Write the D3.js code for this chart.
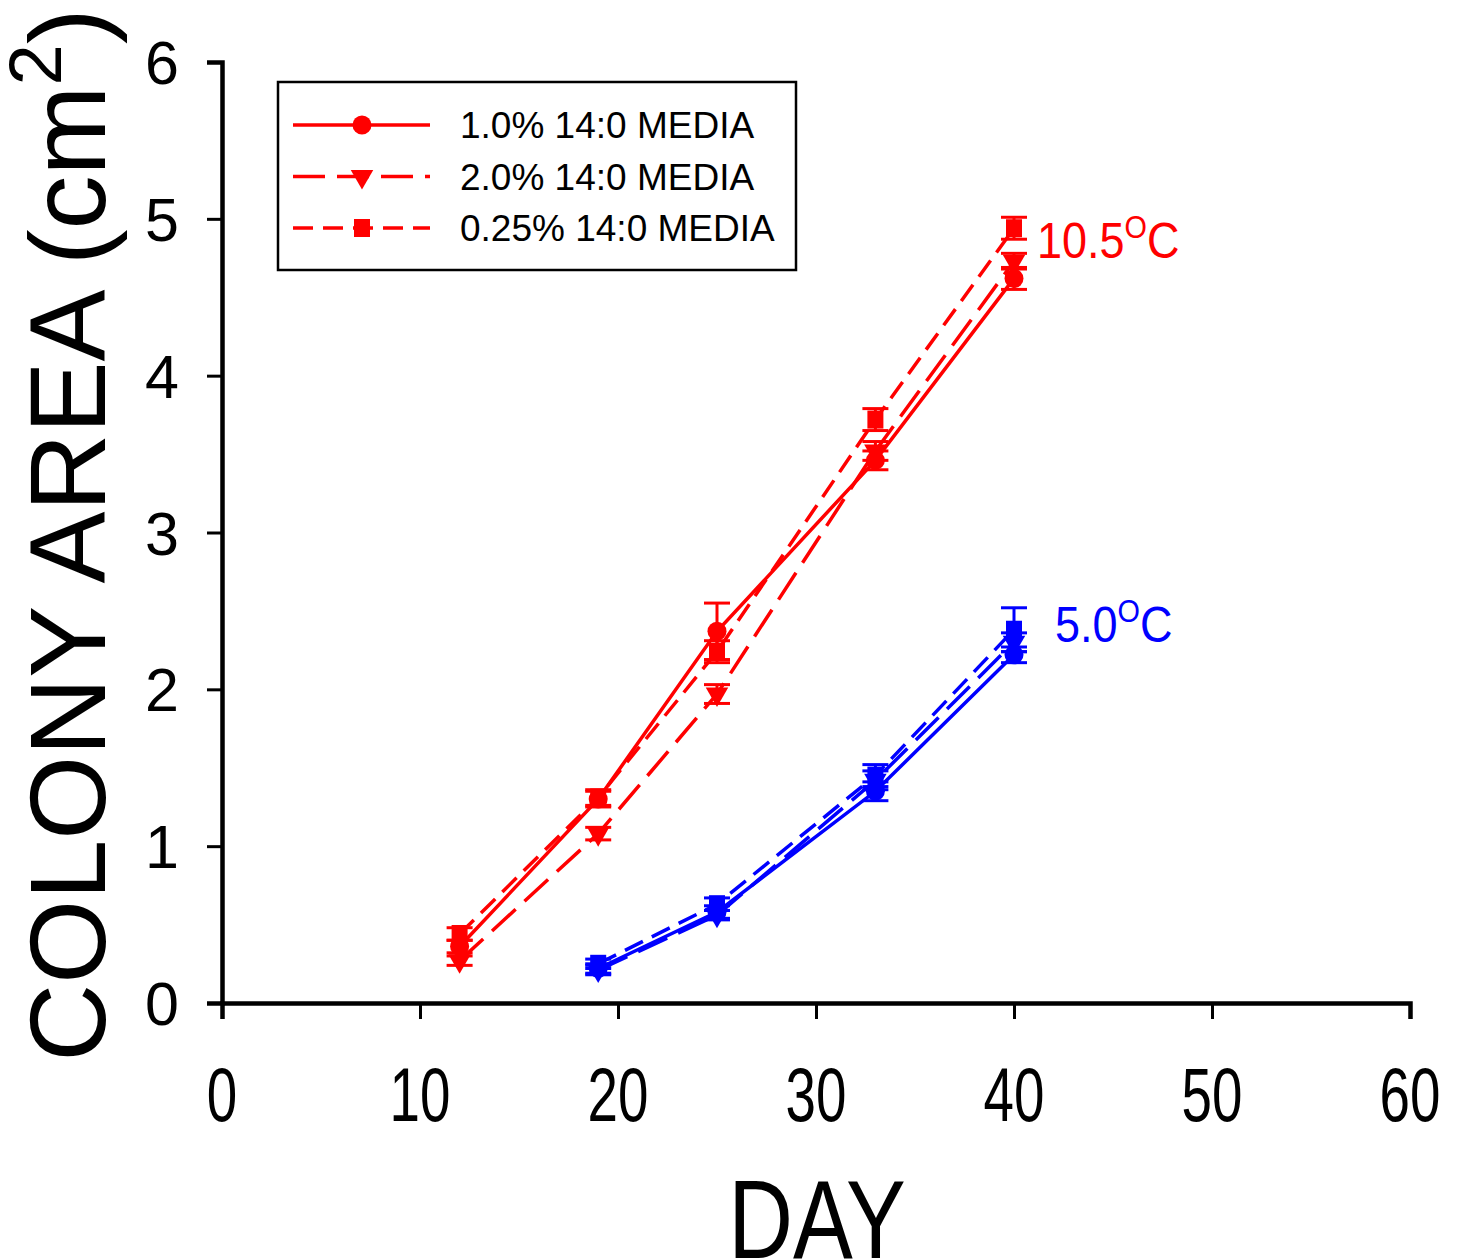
<!DOCTYPE html>
<html>
<head>
<meta charset="utf-8">
<script src="https://cdn.jsdelivr.net/npm/d3@7"></script>
<style>
  body { margin: 0; background: #fff; }
  text { font-family: "Liberation Sans", Arial, sans-serif; }
</style>
</head>
<body>
<svg id="chart" width="1463" height="1260"></svg>
<script>
// days sampled at each temperature
const days105 = [12, 19, 25, 33, 40];
const days50 = [19, 25, 33, 40];

// colony area (cm2) and standard error, 10.5 C
const hot10 = [0.36, 1.30, 2.37, 3.46, 4.62];
const hot10Err = [0.04, 0.05, 0.18, 0.06, 0.07];
const hot20 = [0.27, 1.08, 1.97, 3.52, 4.73];
const hot20Err = [0.03, 0.04, 0.06, 0.06, 0.05];
const hot025 = [0.44, 1.31, 2.24, 3.72, 4.94];
const hot025Err = [0.04, 0.05, 0.07, 0.07, 0.07];

// colony area (cm2) and standard error, 5.0 C
const cold10 = [0.22, 0.58, 1.35, 2.22];
const cold10Err = [0.03, 0.04, 0.06, 0.05];
const cold20 = [0.21, 0.56, 1.42, 2.30];
const cold20Err = [0.03, 0.03, 0.06, 0.06];
const cold025 = [0.25, 0.63, 1.45, 2.38];
const cold025Err = [0.03, 0.04, 0.07, 0.14];

const xTicks = [0, 10, 20, 30, 40, 50, 60];
const yTicks = [0, 1, 2, 3, 4, 5, 6];
const legendLabels = ['1.0% 14:0 MEDIA', '2.0% 14:0 MEDIA', '0.25% 14:0 MEDIA'];

const styles = [
    {marker: 'circle', dash: null},
    {marker: 'triangle', dash: '32,12'},
    {marker: 'square', dash: '20,10'}
];

const svg = d3.select('#chart');

const x = d3.scaleLinear().domain([0, 60]).range([222, 1410]);
const y = d3.scaleLinear().domain([0, 6]).range([1003, 62]);

// axes
const xAxis = svg.append('g')
    .attr('transform', 'translate(0,1003)')
    .call(d3.axisBottom(x).tickValues(xTicks).tickSize(16).tickFormat(''));
const yAxis = svg.append('g')
    .attr('transform', 'translate(222,0)')
    .call(d3.axisLeft(y).tickValues(yTicks).tickSize(15).tickFormat(''));
[xAxis, yAxis].forEach(function (a) {
    a.select('.domain').attr('stroke', '#000').attr('stroke-width', 4.5);
    a.selectAll('.tick line').attr('stroke', '#000').attr('stroke-width', 3);
});

// x tick labels (condensed)
svg.selectAll('.xlab')
    .data(xTicks)
    .enter()
    .append('text')
    .attr('transform', d => 'translate(' + x(d) + ',1121) scale(0.72,1)')
    .attr('text-anchor', 'middle')
    .style('font-size', '76px')
    .text(d => d);

// y tick labels
svg.selectAll('.ylab')
    .data(yTicks)
    .enter()
    .append('text')
    .attr('x', 179)
    .attr('y', d => y(d) + 22)
    .attr('text-anchor', 'end')
    .style('font-size', '61px')
    .text(d => d);

// axis titles
svg.append('text')
    .attr('transform', 'translate(817,1258) scale(0.8,1)')
    .attr('text-anchor', 'middle')
    .style('font-size', '112px')
    .text('DAY');

const yt = svg.append('text')
    .attr('transform', 'translate(105,535) rotate(-90)')
    .attr('text-anchor', 'middle')
    .style('font-size', '108px');
yt.append('tspan').text('COLONY AREA (cm');
yt.append('tspan').attr('dy', -44).style('font-size', '74px').text('2');
yt.append('tspan').attr('dy', 44).text(')');

function drawMarker(g, kind, cx, cy, color) {
    if (kind === 'circle') {
        g.append('circle').attr('cx', cx).attr('cy', cy).attr('r', 9.5).attr('fill', color);
    } else if (kind === 'triangle') {
        g.append('path')
            .attr('d', d3.symbol().type(d3.symbolTriangle).size(220))
            .attr('transform', 'translate(' + cx + ',' + cy + ') rotate(180)')
            .attr('fill', color);
    } else {
        g.append('rect').attr('x', cx - 8).attr('y', cy - 9)
            .attr('width', 16).attr('height', 18).attr('fill', color);
    }
}

function drawSeries(days, vals, errs, style, color) {
    const pts = days.map((d, i) => ({day: d, v: vals[i], e: errs[i]}));
    const g = svg.append('g');
    g.append('path')
        .datum(pts)
        .attr('fill', 'none')
        .attr('stroke', color)
        .attr('stroke-width', 3.5)
        .attr('stroke-dasharray', style.dash)
        .attr('d', d3.line().x(p => x(p.day)).y(p => y(p.v)));
    pts.forEach(function (p) {
        const cx = x(p.day);
        const top = y(p.v + p.e), bot = y(p.v - p.e);
        g.append('line').attr('x1', cx).attr('x2', cx).attr('y1', top).attr('y2', bot)
            .attr('stroke', color).attr('stroke-width', 3);
        [top, bot].forEach(function (yy) {
            g.append('line').attr('x1', cx - 13).attr('x2', cx + 13).attr('y1', yy).attr('y2', yy)
                .attr('stroke', color).attr('stroke-width', 3);
        });
        drawMarker(g, style.marker, cx, y(p.v), color);
    });
}

const red = '#ff0000', blue = '#0000ff';
drawSeries(days105, hot10, hot10Err, styles[0], red);
drawSeries(days105, hot20, hot20Err, styles[1], red);
drawSeries(days105, hot025, hot025Err, styles[2], red);
drawSeries(days50, cold10, cold10Err, styles[0], blue);
drawSeries(days50, cold20, cold20Err, styles[1], blue);
drawSeries(days50, cold025, cold025Err, styles[2], blue);

// temperature labels
function tempLabel(px, py, main, color) {
    const t = svg.append('text')
        .attr('transform', 'translate(' + px + ',' + py + ') scale(0.9,1)')
        .attr('fill', color)
        .style('font-size', '50px');
    t.append('tspan').text(main);
    t.append('tspan').attr('dy', -20).style('font-size', '32px').text('O');
    t.append('tspan').attr('dy', 20).text('C');
}
tempLabel(1037, 258, '10.5', red);
tempLabel(1055, 642, '5.0', blue);

// legend
const lg = svg.append('g');
lg.append('rect').attr('x', 278).attr('y', 82).attr('width', 518).attr('height', 188)
    .attr('fill', '#fff').attr('stroke', '#000').attr('stroke-width', 2.5);
legendLabels.forEach(function (lab, i) {
    const ly = 125 + i * 51.5;
    lg.append('line').attr('x1', 293).attr('x2', 430).attr('y1', ly).attr('y2', ly)
        .attr('stroke', red).attr('stroke-width', 3.5)
        .attr('stroke-dasharray', styles[i].dash);
    drawMarker(lg, styles[i].marker, 362, ly, red);
    lg.append('text').attr('x', 460).attr('y', ly + 13)
        .style('font-size', '37px')
        .text(lab);
});
</script>
</body>
</html>
